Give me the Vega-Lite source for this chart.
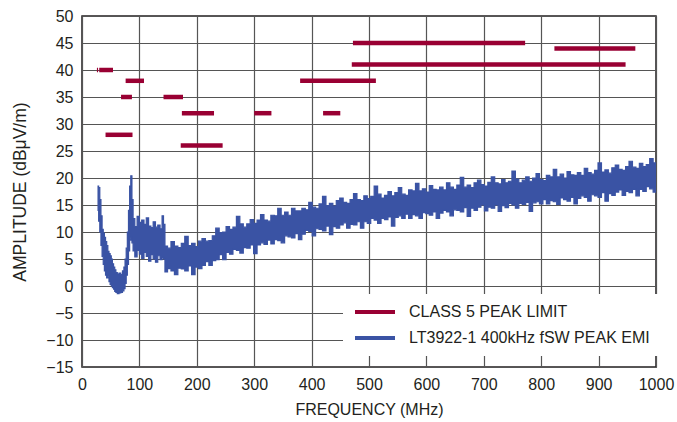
{
  "$schema": "https://vega.github.io/schema/vega-lite/v6.json",
  "autosize": {"type": "none"},
  "padding": {"left": 82, "top": 16, "right": 21, "bottom": 55},
  "width": 574,
  "height": 351,
  "background": "white",
  "config": {
    "font": "Liberation Sans",
    "view": {"stroke": "#231f20", "strokeWidth": 1.5},
    "axis": {
      "labelFont": "Liberation Sans",
      "titleFont": "Liberation Sans",
      "labelFontSize": 16,
      "titleFontSize": 16,
      "labelColor": "#231f20",
      "titleColor": "#231f20",
      "titleFontWeight": "normal",
      "gridColor": "#555555",
      "gridOpacity": 1,
      "gridWidth": 1.2,
      "domain": false,
      "ticks": false,
      "labelFlush": false,
      "labelBound": false,
      "labelOverlap": false
    },
    "legend": {
      "labelFont": "Liberation Sans",
      "labelFontSize": 16,
      "labelColor": "#231f20"
    }
  },
  "datasets": {
    "limits": [
      {"f1": 26, "f2": 28, "level": 40, "series": "CLASS 5 PEAK LIMIT"},
      {"f1": 30, "f2": 54, "level": 40, "series": "CLASS 5 PEAK LIMIT"},
      {"f1": 41, "f2": 88, "level": 28, "series": "CLASS 5 PEAK LIMIT"},
      {"f1": 68, "f2": 87, "level": 35, "series": "CLASS 5 PEAK LIMIT"},
      {"f1": 76, "f2": 108, "level": 38, "series": "CLASS 5 PEAK LIMIT"},
      {"f1": 142, "f2": 176, "level": 35, "series": "CLASS 5 PEAK LIMIT"},
      {"f1": 174, "f2": 230, "level": 32, "series": "CLASS 5 PEAK LIMIT"},
      {"f1": 172, "f2": 245, "level": 26, "series": "CLASS 5 PEAK LIMIT"},
      {"f1": 300, "f2": 330, "level": 32, "series": "CLASS 5 PEAK LIMIT"},
      {"f1": 380, "f2": 512, "level": 38, "series": "CLASS 5 PEAK LIMIT"},
      {"f1": 420, "f2": 450, "level": 32, "series": "CLASS 5 PEAK LIMIT"},
      {"f1": 470, "f2": 947, "level": 41, "series": "CLASS 5 PEAK LIMIT"},
      {"f1": 472, "f2": 772, "level": 45, "series": "CLASS 5 PEAK LIMIT"},
      {"f1": 823, "f2": 964, "level": 44, "series": "CLASS 5 PEAK LIMIT"}
    ],
    "emi": [
      {"f": 28, "lo": 14, "hi": 18.5},
      {"f": 30, "lo": 12, "hi": 18.2},
      {"f": 32, "lo": 10, "hi": 16},
      {"f": 34, "lo": 7.5, "hi": 13},
      {"f": 36, "lo": 5.5, "hi": 10.5},
      {"f": 38, "lo": 4, "hi": 9.8},
      {"f": 40, "lo": 2.8, "hi": 9},
      {"f": 42, "lo": 2, "hi": 8.2},
      {"f": 44, "lo": 1.5, "hi": 7.5},
      {"f": 46, "lo": 1.7, "hi": 6.4},
      {"f": 48, "lo": 0.8, "hi": 6},
      {"f": 50, "lo": 0.3, "hi": 5.6},
      {"f": 52, "lo": 0, "hi": 5},
      {"f": 54, "lo": -0.3, "hi": 4.1},
      {"f": 56, "lo": -0.6, "hi": 3.5},
      {"f": 58, "lo": -1, "hi": 3},
      {"f": 60, "lo": -1.2, "hi": 2.5},
      {"f": 63, "lo": -1.4, "hi": 2.2},
      {"f": 66, "lo": -1.3, "hi": 2.4},
      {"f": 69, "lo": -1.2, "hi": 2.1},
      {"f": 72, "lo": -0.9, "hi": 2.8},
      {"f": 74, "lo": -0.5, "hi": 3.5},
      {"f": 76, "lo": 0.5, "hi": 5},
      {"f": 78, "lo": 2, "hi": 7},
      {"f": 80, "lo": 4, "hi": 10},
      {"f": 82, "lo": 6.5, "hi": 14},
      {"f": 84, "lo": 8.5, "hi": 18.5},
      {"f": 86, "lo": 9, "hi": 20.4},
      {"f": 88, "lo": 8, "hi": 16},
      {"f": 90, "lo": 6.5, "hi": 12.5},
      {"f": 94, "lo": 5.4, "hi": 11.0},
      {"f": 98, "lo": 6.6, "hi": 12.9},
      {"f": 102, "lo": 5.9, "hi": 11.8},
      {"f": 106, "lo": 5.1, "hi": 12.2},
      {"f": 110, "lo": 6.2, "hi": 11.4},
      {"f": 114, "lo": 5.5, "hi": 12.6},
      {"f": 118, "lo": 4.6, "hi": 11.1},
      {"f": 122, "lo": 5.8, "hi": 10.8},
      {"f": 126, "lo": 5.0, "hi": 11.9},
      {"f": 130, "lo": 4.4, "hi": 10.9},
      {"f": 134, "lo": 5.6, "hi": 11.3},
      {"f": 138, "lo": 4.9, "hi": 10.6},
      {"f": 141, "lo": 5.3, "hi": 13.0},
      {"f": 143, "lo": 5.0, "hi": 11.4},
      {"f": 146, "lo": 2.6, "hi": 7.4},
      {"f": 152, "lo": 3.2, "hi": 7.0},
      {"f": 158, "lo": 2.8, "hi": 8.2},
      {"f": 164, "lo": 2.1, "hi": 7.4},
      {"f": 170, "lo": 3.3, "hi": 7.1},
      {"f": 176, "lo": 3.15, "hi": 7.9},
      {"f": 182, "lo": 2.8, "hi": 9.2},
      {"f": 188, "lo": 3.7, "hi": 7.5},
      {"f": 194, "lo": 2.1, "hi": 7.9},
      {"f": 200, "lo": 3.5, "hi": 7.3},
      {"f": 206, "lo": 3.2, "hi": 8.3},
      {"f": 212, "lo": 3.8, "hi": 8.8},
      {"f": 218, "lo": 4.5, "hi": 8.3},
      {"f": 224, "lo": 3.8, "hi": 8.4},
      {"f": 230, "lo": 4.7, "hi": 9.3},
      {"f": 236, "lo": 4.9, "hi": 10.7},
      {"f": 242, "lo": 5.8, "hi": 9.9},
      {"f": 248, "lo": 4.9, "hi": 10.0},
      {"f": 254, "lo": 6.2, "hi": 11.0},
      {"f": 260, "lo": 5.9, "hi": 10.5},
      {"f": 266, "lo": 6.8, "hi": 10.9},
      {"f": 272, "lo": 6.6, "hi": 12.9},
      {"f": 278, "lo": 6.1, "hi": 11.5},
      {"f": 284, "lo": 7.1, "hi": 10.9},
      {"f": 290, "lo": 7.0, "hi": 11.5},
      {"f": 296, "lo": 7.6, "hi": 12.3},
      {"f": 302, "lo": 6.0, "hi": 11.6},
      {"f": 308, "lo": 7.6, "hi": 12.2},
      {"f": 314, "lo": 8.0, "hi": 13.2},
      {"f": 320, "lo": 7.7, "hi": 12.2},
      {"f": 326, "lo": 8.5, "hi": 12.0},
      {"f": 332, "lo": 7.8, "hi": 13.1},
      {"f": 338, "lo": 8.6, "hi": 13.0},
      {"f": 344, "lo": 8.4, "hi": 14.4},
      {"f": 350, "lo": 8.0, "hi": 13.1},
      {"f": 356, "lo": 9.3, "hi": 13.7},
      {"f": 362, "lo": 9.1, "hi": 13.1},
      {"f": 368, "lo": 8.9, "hi": 14.4},
      {"f": 374, "lo": 9.7, "hi": 13.9},
      {"f": 380, "lo": 8.6, "hi": 13.9},
      {"f": 386, "lo": 9.6, "hi": 14.4},
      {"f": 392, "lo": 10.3, "hi": 14.1},
      {"f": 398, "lo": 10.1, "hi": 15.5},
      {"f": 404, "lo": 9.3, "hi": 14.6},
      {"f": 410, "lo": 10.6, "hi": 14.4},
      {"f": 416, "lo": 10.5, "hi": 15.2},
      {"f": 422, "lo": 10.2, "hi": 16.6},
      {"f": 428, "lo": 11.1, "hi": 14.9},
      {"f": 434, "lo": 9.5, "hi": 15.3},
      {"f": 440, "lo": 11.0, "hi": 14.8},
      {"f": 446, "lo": 10.7, "hi": 15.8},
      {"f": 452, "lo": 11.3, "hi": 16.3},
      {"f": 458, "lo": 11.7, "hi": 15.5},
      {"f": 464, "lo": 10.7, "hi": 15.3},
      {"f": 470, "lo": 11.4, "hi": 16.0},
      {"f": 476, "lo": 11.3, "hi": 17.1},
      {"f": 482, "lo": 11.9, "hi": 16.0},
      {"f": 488, "lo": 10.7, "hi": 15.8},
      {"f": 494, "lo": 11.9, "hi": 16.7},
      {"f": 500, "lo": 11.6, "hi": 16.2},
      {"f": 506, "lo": 12.5, "hi": 16.6},
      {"f": 512, "lo": 12.2, "hi": 18.5},
      {"f": 518, "lo": 11.6, "hi": 17.0},
      {"f": 524, "lo": 12.5, "hi": 16.3},
      {"f": 530, "lo": 12.3, "hi": 16.8},
      {"f": 536, "lo": 12.8, "hi": 17.5},
      {"f": 542, "lo": 11.1, "hi": 16.7},
      {"f": 548, "lo": 12.7, "hi": 17.3},
      {"f": 554, "lo": 13.0, "hi": 18.2},
      {"f": 560, "lo": 12.5, "hi": 17.0},
      {"f": 566, "lo": 13.3, "hi": 16.8},
      {"f": 572, "lo": 12.5, "hi": 17.8},
      {"f": 578, "lo": 13.2, "hi": 17.6},
      {"f": 584, "lo": 13.0, "hi": 19.0},
      {"f": 590, "lo": 12.5, "hi": 17.6},
      {"f": 596, "lo": 13.6, "hi": 18.0},
      {"f": 602, "lo": 13.4, "hi": 17.4},
      {"f": 608, "lo": 13.1, "hi": 18.6},
      {"f": 614, "lo": 13.7, "hi": 17.9},
      {"f": 620, "lo": 12.5, "hi": 17.8},
      {"f": 626, "lo": 13.5, "hi": 18.3},
      {"f": 632, "lo": 14.0, "hi": 17.8},
      {"f": 638, "lo": 13.7, "hi": 19.1},
      {"f": 644, "lo": 13.0, "hi": 18.3},
      {"f": 650, "lo": 14.1, "hi": 17.9},
      {"f": 656, "lo": 14.0, "hi": 18.7},
      {"f": 662, "lo": 13.7, "hi": 20.1},
      {"f": 668, "lo": 14.5, "hi": 18.3},
      {"f": 674, "lo": 12.9, "hi": 18.7},
      {"f": 680, "lo": 14.4, "hi": 18.2},
      {"f": 686, "lo": 14.0, "hi": 19.1},
      {"f": 692, "lo": 14.6, "hi": 19.6},
      {"f": 698, "lo": 15.0, "hi": 18.8},
      {"f": 704, "lo": 13.9, "hi": 18.5},
      {"f": 710, "lo": 14.6, "hi": 19.2},
      {"f": 716, "lo": 14.4, "hi": 20.2},
      {"f": 722, "lo": 15.0, "hi": 19.1},
      {"f": 728, "lo": 13.8, "hi": 18.9},
      {"f": 734, "lo": 14.9, "hi": 19.7},
      {"f": 740, "lo": 14.5, "hi": 19.1},
      {"f": 746, "lo": 15.3, "hi": 19.4},
      {"f": 752, "lo": 15.0, "hi": 21.3},
      {"f": 758, "lo": 14.4, "hi": 19.8},
      {"f": 764, "lo": 15.3, "hi": 19.1},
      {"f": 770, "lo": 15.1, "hi": 19.6},
      {"f": 776, "lo": 15.5, "hi": 20.2},
      {"f": 782, "lo": 13.8, "hi": 19.4},
      {"f": 788, "lo": 15.4, "hi": 20.0},
      {"f": 794, "lo": 15.6, "hi": 20.8},
      {"f": 800, "lo": 15.2, "hi": 19.7},
      {"f": 806, "lo": 16.0, "hi": 19.5},
      {"f": 812, "lo": 15.2, "hi": 20.5},
      {"f": 818, "lo": 15.8, "hi": 20.2},
      {"f": 824, "lo": 15.6, "hi": 21.6},
      {"f": 830, "lo": 15.1, "hi": 20.2},
      {"f": 836, "lo": 16.3, "hi": 20.7},
      {"f": 842, "lo": 16.0, "hi": 20.0},
      {"f": 848, "lo": 15.7, "hi": 21.2},
      {"f": 854, "lo": 16.4, "hi": 20.6},
      {"f": 860, "lo": 15.2, "hi": 20.5},
      {"f": 866, "lo": 16.2, "hi": 21.0},
      {"f": 872, "lo": 16.7, "hi": 20.5},
      {"f": 878, "lo": 16.4, "hi": 21.8},
      {"f": 884, "lo": 15.7, "hi": 21.0},
      {"f": 890, "lo": 16.9, "hi": 20.7},
      {"f": 896, "lo": 16.7, "hi": 21.4},
      {"f": 902, "lo": 16.4, "hi": 22.8},
      {"f": 908, "lo": 17.3, "hi": 21.1},
      {"f": 914, "lo": 15.7, "hi": 21.5},
      {"f": 920, "lo": 17.1, "hi": 20.9},
      {"f": 926, "lo": 16.8, "hi": 21.9},
      {"f": 932, "lo": 17.4, "hi": 22.4},
      {"f": 938, "lo": 17.8, "hi": 21.6},
      {"f": 944, "lo": 16.8, "hi": 21.4},
      {"f": 950, "lo": 17.5, "hi": 22.1},
      {"f": 956, "lo": 17.3, "hi": 23.1},
      {"f": 962, "lo": 17.9, "hi": 22.0},
      {"f": 968, "lo": 16.7, "hi": 21.8},
      {"f": 974, "lo": 17.9, "hi": 22.7},
      {"f": 980, "lo": 17.5, "hi": 22.1},
      {"f": 986, "lo": 18.4, "hi": 22.5},
      {"f": 992, "lo": 18.0, "hi": 23.6},
      {"f": 998, "lo": 17.4, "hi": 22.8},
      {"f": 1000, "lo": 18.3, "hi": 22.6}
    ]
  },
  "layer": [
    {
      "data": {"name": "emi"},
      "transform": [{"calculate": "'LT3922-1 400kHz fSW PEAK EMI'", "as": "series"}],
      "mark": {"type": "area", "interpolate": "step", "stroke": "#3a53a4", "strokeWidth": 1.2, "fill": "#3a53a4", "clip": true},
      "encoding": {
        "x": {
          "field": "f", "type": "quantitative",
          "scale": {"domain": [0, 1000], "nice": false},
          "axis": {"values": [0,100,200,300,400,500,600,700,800,900,1000], "tickCount": 20, "format": "d", "title": "FREQUENCY (MHz)", "labelPadding": 9, "titlePadding": 9, "labelOverlap": false}
        },
        "y": {
          "field": "lo", "type": "quantitative",
          "scale": {"domain": [-15, 50], "nice": false, "zero": false},
          "axis": {"values": [-15,-10,-5,0,5,10,15,20,25,30,35,40,45,50], "tickCount": 20, "title": "AMPLITUDE (dBμV/m)", "titleFontSize": 17.5, "labelPadding": 9, "titlePadding": 16, "labelOverlap": false}
        },
        "y2": {"field": "hi"},
        "color": {
          "field": "series", "type": "nominal",
          "scale": {"domain": ["CLASS 5 PEAK LIMIT", "LT3922-1 400kHz fSW PEAK EMI"], "range": ["#990033", "#3a53a4"]},
          "legend": {
            "title": null,
            "orient": "none",
            "legendX": 261,
            "legendY": 278,
            "fillColor": "white",
            "padding": 10,
            "rowPadding": 10,
            "symbolType": "M-5,0H5",
            "symbolSize": 64,
            "symbolStrokeWidth": 4,
            "symbolOffset": 14,
            "labelOffset": 26,
            "labelLimit": 400,
            "encode": {
              "symbols": {
                "update": {
                  "stroke": {"scale": "color", "field": "value"},
                  "strokeWidth": {"value": 4},
                  "shape": {"value": "M-5,0H5"},
                  "fill": {"value": "transparent"}
                }
              }
            }
          }
        }
      }
    },
    {
      "data": {"name": "limits"},
      "mark": {"type": "rule", "strokeWidth": 4.5, "strokeCap": "butt"},
      "encoding": {
        "x": {"field": "f1", "type": "quantitative"},
        "x2": {"field": "f2"},
        "y": {"field": "level", "type": "quantitative"},
        "color": {"field": "series", "type": "nominal"}
      }
    }
  ]
}
